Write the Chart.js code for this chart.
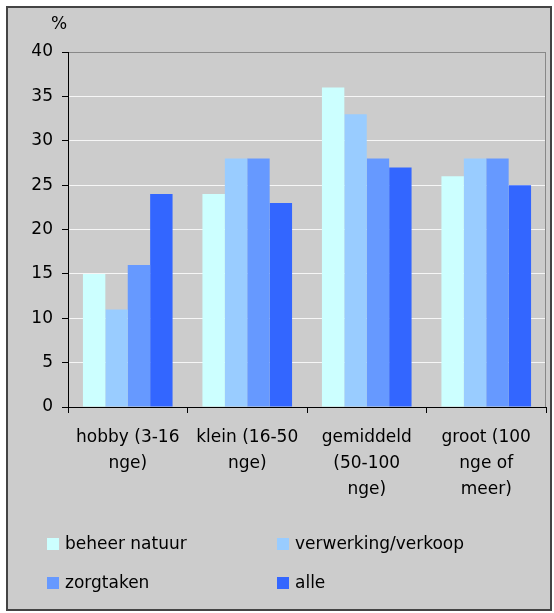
<!DOCTYPE html>
<html>
<head>
<meta charset="utf-8">
<script src="https://cdn.jsdelivr.net/npm/chart.js@4/dist/chart.umd.min.js"></script>
<style>
  html, body { margin: 0; padding: 0; background: #fff; }
  #frame { position: absolute; left: 6px; top: 6px; width: 542px; height: 601px;
           border: 2px solid #444; background: #cccccc; }
  #wrap { position: absolute; left: 0; top: 0; width: 554px; height: 613px; }
  .lg { position: absolute; font: 17px "DejaVu Sans", sans-serif; color: #000; line-height: 17px; white-space: nowrap; }
  .lg i { position: absolute; width: 12px; height: 12px; top: 3px; }
</style>
</head>
<body>
<div id="frame"></div>
<div id="wrap"><canvas id="chart" width="554" height="613"></canvas></div>
<div id="legend"></div>
<script>
// categories (bedrijfsgrootte) and share per activity, %
let categories = [
    ['hobby (3-16', 'nge)'],
    ['klein (16-50', 'nge)'],
    ['gemiddeld', '(50-100', 'nge)'],
    ['groot (100', 'nge of', 'meer)']
];
let seriesNames = ['beheer natuur', 'verwerking/verkoop', 'zorgtaken', 'alle'];
let beheerNatuur = [15, 24, 36, 26];
let verwerkingVerkoop = [11, 28, 33, 28];
let zorgtaken = [16, 28, 28, 28];
let alle = [24, 23, 27, 25];
let seriesColors = ['#ccffff', '#99ccff', '#6699ff', '#3366ff'];
let yTicks = [0, 5, 10, 15, 20, 25, 30, 35, 40];

let font = { family: '"DejaVu Sans", sans-serif', size: 17 };

let extras = {
    id: 'extras',
    afterDraw(chart) {
        let ctx = chart.ctx, a = chart.chartArea;
        ctx.save();
        // grey frame of the plot area on the right
        ctx.strokeStyle = '#888';
        ctx.lineWidth = 1;
        ctx.beginPath();
        ctx.moveTo(a.right - 0.5, a.top);
        ctx.lineTo(a.right - 0.5, a.bottom);
        ctx.stroke();
        // unit label
        ctx.fillStyle = '#000';
        ctx.font = '17px "DejaVu Sans", sans-serif';
        ctx.textAlign = 'center';
        ctx.textBaseline = 'middle';
        ctx.fillText('%', a.left - 9, a.top - 27);
        ctx.restore();
    }
};

let chart = new Chart(document.getElementById('chart'), {
    type: 'bar',
    data: {
        labels: categories,
        datasets: [beheerNatuur, verwerkingVerkoop, zorgtaken, alle].map((d, i) => ({
            label: seriesNames[i], data: d,
            backgroundColor: seriesColors[i], borderWidth: 0,
            categoryPercentage: 0.75, barPercentage: 1.0
        }))
    },
    options: {
        responsive: false, animation: false, devicePixelRatio: 1,
        layout: { padding: { left: 0, top: 52, right: 8, bottom: 0 } },
        plugins: { legend: { display: false }, tooltip: { enabled: false } },
        scales: {
            x: {
                grid: { offset: true, drawOnChartArea: false, tickLength: 6, color: '#000' },
                border: { color: '#000', width: 1 },
                ticks: { color: '#000', font: Object.assign({ lineHeight: '26px' }, font), padding: 12, maxRotation: 0, autoSkip: false },
                afterFit(s) { s.height = 206; }
            },
            y: {
                min: 0, max: 40,
                afterBuildTicks(s) { s.ticks = yTicks.map(v => ({ value: v })); },
                grid: {
                    color: c => c.tick.value === 40 ? '#888' : (c.tick.value === 0 ? '#000' : '#f6f6f6'),
                    tickColor: '#000', tickLength: 6, lineWidth: 1
                },
                border: { color: '#000', width: 1 },
                ticks: { color: '#000', font: font, padding: 9 },
                afterFit(s) { s.width = 68; }
            }
        }
    },
    plugins: [extras]
});

// legend in two columns below the chart
let legendPos = [[47, 535], [277, 535], [47, 574], [277, 574]];
let legend = document.getElementById('legend');
chart.data.datasets.forEach((ds, i) => {
    let el = document.createElement('div');
    el.className = 'lg';
    el.style.left = legendPos[i][0] + 'px';
    el.style.top = legendPos[i][1] + 'px';
    el.style.paddingLeft = '18px';
    el.innerHTML = '<i style="left:0;background:' + ds.backgroundColor + '"></i>';
    el.appendChild(document.createTextNode(ds.label));
    legend.appendChild(el);
});
</script>
</body>
</html>
